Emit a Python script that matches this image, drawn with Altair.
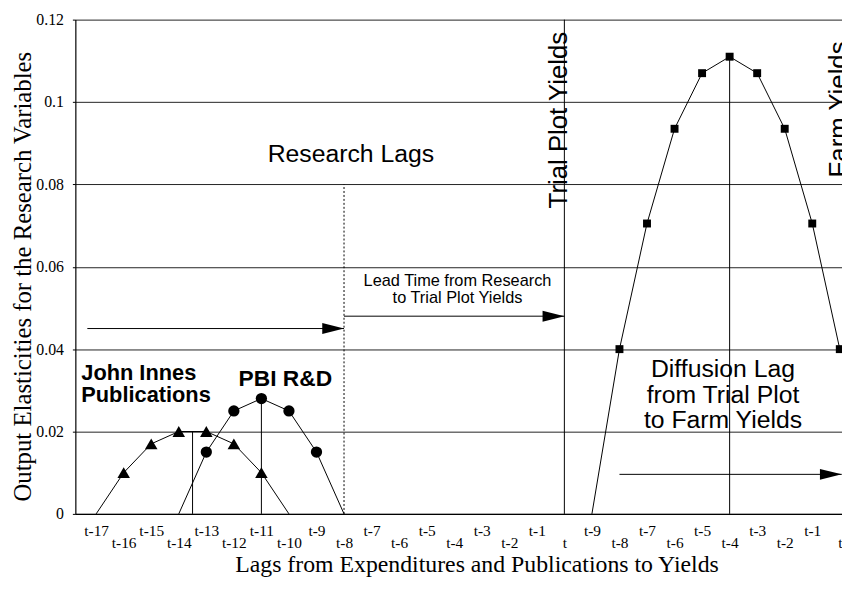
import altair as alt
import pandas as pd

# ---- data ---------------------------------------------------------------
# x positions are lag slots: 0..17 -> t-17..t (research), 18..27 -> t-9..t (diffusion)
tick_labels = ["t-17", "t-16", "t-15", "t-14", "t-13", "t-12", "t-11", "t-10", "t-9",
               "t-8", "t-7", "t-6", "t-5", "t-4", "t-3", "t-2", "t-1", "t",
               "t-9", "t-8", "t-7", "t-6", "t-5", "t-4", "t-3", "t-2", "t-1", "t"]
y_ticks = [0, 0.02, 0.04, 0.06, 0.08, 0.1, 0.12]

ji_x = [0, 1, 2, 3, 4, 5, 6, 7]
ji_y = [0, 0.010, 0.017, 0.020, 0.020, 0.017, 0.010, 0]

pbi_x = [3, 4, 5, 6, 7, 8, 9]
pbi_y = [0, 0.015, 0.025, 0.028, 0.025, 0.015, 0]

farm_x = [18, 19, 20, 21, 22, 23, 24, 25, 26, 27]
farm_y = [0, 0.040, 0.0705, 0.0935, 0.107, 0.111, 0.107, 0.0935, 0.0705, 0.040]

vline_x = [3.5, 6, 17, 23]
vline_top = [0.020, 0.028, 0.12, 0.111]
dotted_x = [9]
dotted_top = [0.08]

arrow_x1 = [-0.32, 9, 19]
arrow_x2 = [9, 17, 27.07]
arrow_y = [0.045, 0.048, 0.0096]

big_text = ["Research Lags", "Diffusion Lag\nfrom Trial Plot\nto Farm Yields"]
big_x = [9.25, 22.76]
big_y = [0.0873, 0.0352]

rot_text = ["Trial Plot Yields", "Farm Yields"]
rot_x = [16.8, 26.98]
rot_y = [0.0956, 0.0982]

ji_text = ["John Innes\nPublications"]
ji_tx = [-0.54]
ji_ty = [0.0343]

pbi_text = ["PBI R&D"]
pbi_tx = [6.87]
pbi_ty = [0.0327]

lead_text = ["Lead Time from Research\nto Trial Plot Yields"]
lead_x = [13.12]
lead_y = [0.0565]

# ---- tables -------------------------------------------------------------
ji_df = pd.DataFrame({"x": ji_x, "y": ji_y})
pbi_df = pd.DataFrame({"x": pbi_x, "y": pbi_y})
farm_df = pd.DataFrame({"x": farm_x, "y": farm_y})
vline_df = pd.DataFrame({"x": vline_x, "y": [0] * len(vline_x), "y2": vline_top})
dot_df = pd.DataFrame({"x": dotted_x, "y": [0] * len(dotted_x), "y2": dotted_top})
arrow_df = pd.DataFrame({"x": arrow_x1, "x2": arrow_x2, "y": arrow_y})
head_df = pd.DataFrame({"x": arrow_x2, "y": arrow_y})
big_df = pd.DataFrame({"x": big_x, "y": big_y, "label": big_text})
rot_df = pd.DataFrame({"x": rot_x, "y": rot_y, "label": rot_text})
ji_t_df = pd.DataFrame({"x": ji_tx, "y": ji_ty, "label": ji_text})
pbi_t_df = pd.DataFrame({"x": pbi_tx, "y": pbi_ty, "label": pbi_text})
lead_df = pd.DataFrame({"x": lead_x, "y": lead_y, "label": lead_text})

# ---- scales / axes ------------------------------------------------------
X_SCALE = alt.Scale(domain=[-0.755, 27.08], nice=False, zero=False)
Y_SCALE = alt.Scale(domain=[0, 0.12], nice=False, zero=True)

label_expr = "[" + ",".join("'%s'" % s for s in tick_labels) + "][datum.value]"

x_axis = alt.Axis(
    values=list(range(len(tick_labels))), labelExpr=label_expr,
    ticks=False, grid=False, domainColor="black", domainWidth=1.2,
    labelFont="Liberation Serif", labelFontSize=15.5, labelColor="black",
    labelPadding={"condition": {"test": "datum.value % 2 == 1", "value": 22}, "value": 10},
    labelOverlap=False, labelFlush=False, labelBound=False, labelAngle=0,
    title="Lags from Expenditures and Publications to Yields",
    titleFont="Liberation Serif", titleFontSize=24, titleFontWeight="normal",
    titleColor="black", titleX=405, titleY=58, titleAlign="center",
    titleBaseline="alphabetic",
)
y_axis = alt.Axis(
    values=y_ticks, format=".2~f", grid=True, gridColor="#222222", gridWidth=1,
    domainColor="black", domainWidth=1.2, ticks=True, tickSize=3, tickColor="black",
    labelFont="Liberation Serif", labelFontSize=16, labelColor="black", labelPadding=9,
    title="Output Elasticities for the Research Variables",
    titleFont="Liberation Serif", titleFontSize=25, titleFontWeight="normal",
    titleColor="black", titleX=-53, titleY=259, titleAngle=270,
    titleAlign="center", titleBaseline="middle",
)


def X(field="x"):
    return alt.X(field + ":Q", scale=X_SCALE, axis=x_axis)


def Y(field="y"):
    return alt.Y(field + ":Q", scale=Y_SCALE, axis=y_axis)


# ---- layers -------------------------------------------------------------
vlines = alt.Chart(vline_df).mark_rule(color="black", strokeWidth=1).encode(
    x=X(), y=Y(), y2="y2:Q")
dotted = alt.Chart(dot_df).mark_rule(color="black", strokeWidth=1, strokeDash=[2, 2]).encode(
    x=X(), y=Y(), y2="y2:Q")
arrows = alt.Chart(arrow_df).mark_rule(color="black", strokeWidth=1).encode(
    x=X(), x2="x2:Q", y=Y())
heads = alt.Chart(head_df).mark_point(
    shape="M-2,-0.5L0,0L-2,0.5Z", size=484, filled=True, color="black",
    opacity=1, strokeWidth=0).encode(x=X(), y=Y())


def series(df, shape, size):
    line = alt.Chart(df).mark_line(color="black", strokeWidth=1).encode(x=X(), y=Y())
    pts = alt.Chart(df).transform_filter("datum.y > 0").mark_point(
        shape=shape, size=size, filled=True, color="black", opacity=1,
        strokeWidth=0).encode(x=X(), y=Y())
    return line + pts


ji_layer = series(ji_df, "triangle-up", 160)
pbi_layer = series(pbi_df, "circle", 130)
farm_layer = series(farm_df, "square", 64)

big = alt.Chart(big_df).mark_text(
    font="Liberation Sans", fontSize=25, color="black", align="center",
    baseline="middle", lineBreak="\n", lineHeight=26).encode(x=X(), y=Y(), text="label:N")
rot = alt.Chart(rot_df).mark_text(
    font="Liberation Sans", fontSize=26, color="black", align="center",
    baseline="middle", angle=270).encode(x=X(), y=Y(), text="label:N")
ji_t = alt.Chart(ji_t_df).mark_text(
    font="Liberation Sans", fontSize=22, fontWeight="bold", color="black",
    align="left", baseline="middle", lineBreak="\n", lineHeight=23).encode(
    x=X(), y=Y(), text="label:N")
pbi_t = alt.Chart(pbi_t_df).mark_text(
    font="Liberation Sans", fontSize=23, fontWeight="bold", color="black",
    align="center", baseline="middle").encode(x=X(), y=Y(), text="label:N")
lead = alt.Chart(lead_df).mark_text(
    font="Liberation Sans", fontSize=16.5, color="black", align="center",
    baseline="middle", lineBreak="\n", lineHeight=17).encode(x=X(), y=Y(), text="label:N")

chart = alt.layer(
    vlines, dotted, arrows, heads, ji_layer, pbi_layer, farm_layer,
    big, rot, ji_t, pbi_t, lead,
).properties(
    width=774, height=499,
    autosize=alt.AutoSizeParams(type="none"),
    padding={"left": 68, "top": 9, "right": 0, "bottom": 63},
    background="white",
).configure_view(strokeWidth=0)

chart.save("out.html", embed_options={"renderer": "svg", "actions": False})
